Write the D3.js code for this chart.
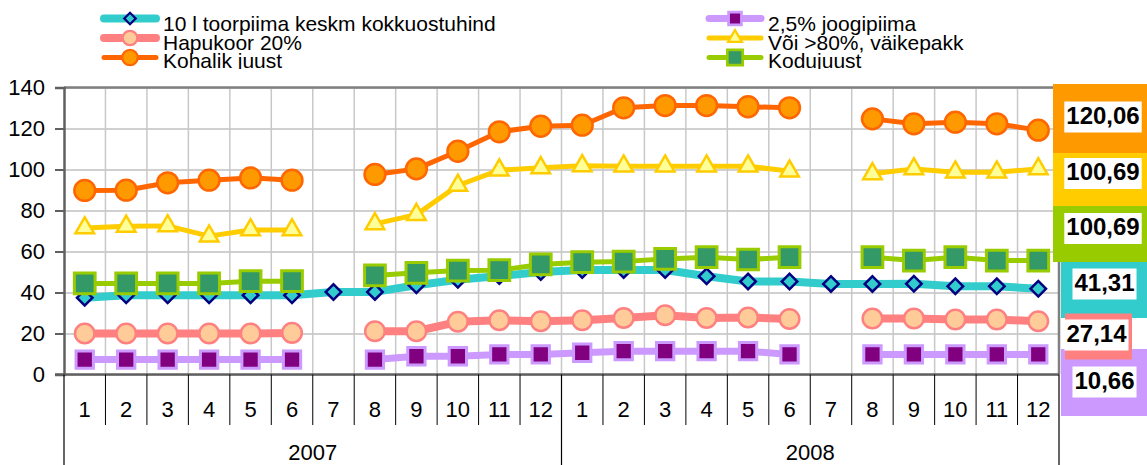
<!DOCTYPE html>
<html>
<head>
<meta charset="utf-8">
<script src="https://cdn.jsdelivr.net/npm/d3@7"></script>
<style>
  body { margin: 0; background: #fff; }
  svg { display: block; font-family: "Liberation Sans", Arial, sans-serif; }
</style>
</head>
<body>
<svg id="chart" width="1147" height="465"></svg>
<script>
// ---- data ----
var months = ["1","2","3","4","5","6","7","8","9","10","11","12",
              "1","2","3","4","5","6","7","8","9","10","11","12"];
var years = ["2007", "2008"];
var yTicks = [0, 20, 40, 60, 80, 100, 120, 140];

var toorpiima = [37.4, 38.7, 38.7, 38.7, 38.7, 38.7, 40.2, 40.3, 43.5, 46.2, 48, 50,
                 51, 51, 51, 47.9, 45.4, 45.4, 44.2, 44.2, 44.3, 43, 43, 41.8];
var joogipiima = [7.3, 7.3, 7.3, 7.3, 7.3, 7.3, null, 7.3, 8.9, 8.9, 9.8, 9.8,
                  10.6, 11.4, 11.4, 11.4, 11.4, 9.8, null, 9.8, 9.8, 9.8, 9.8, 9.8];
var hapukoor = [20, 20, 20, 20, 20, 20.3, null, 21.1, 21.1, 25.7, 26.5, 26,
                26.5, 27.6, 28.9, 27.6, 27.8, 27.1, null, 27.3, 27.3, 26.8, 26.8, 26];
var voi = [71.5, 72.3, 72.5, 67.5, 70.5, 70.5, null, 73.5, 78, 92.2, 99.7, 100.8,
           101.8, 101.6, 101.6, 101.6, 101.6, 99.2, null, 97.9, 100.3, 98.7, 98.7, 100.3];
var kohalik = [89.8, 89.9, 93.5, 94.8, 95.9, 94.8, null, 97.6, 100.3, 108.9, 118.4, 121.1,
               121.6, 130.1, 131.2, 131.2, 130.6, 130.1, null, 124.7, 122.3, 123.1, 122.3, 119.2];
var kodujuust = [44.4, 44.4, 44.4, 44.4, 45.5, 45.5, null, 48.3, 49.6, 50.7, 50.9, 53.7,
                 54.8, 55.1, 56.4, 57.2, 56.1, 57.2, null, 57.2, 55.6, 57.2, 55.6, 55.6];

var seriesNames = ["10 l toorpiima keskm kokkuostuhind", "2,5% joogipiima", "Hapukoor 20%",
                   "Või >80%, väikepakk", "Kohalik juust", "Kodujuust"];
var lastLabels = ["41,31", "10,66", "27,14", "100,69", "120,06", "100,69"];

// ---- styles per series ----
var styles = [
  {values: toorpiima,  line: "#33CCCC", box: "#33CCCC", lw: 8, sym: "diamond", size: 120, fill: "#33CCCC", stroke: "#000080", sw: 2.5},
  {values: joogipiima, line: "#CC99FF", box: "#CC99FF", lw: 7, sym: d3.symbolSquare, size: 300, fill: "#800080", stroke: "#CC99FF", sw: 3},
  {values: hapukoor,   line: "#FF8080", box: "#FF8080", lw: 8, sym: d3.symbolCircle, size: 300, fill: "#FFCC99", stroke: "#FF8080", sw: 2.5},
  {values: voi,        line: "#FFCC00", box: "#FFCC00", lw: 5, sym: d3.symbolTriangle, size: 150, fill: "#FFFF99", stroke: "#FFCC00", sw: 2.5},
  {values: kohalik,    line: "#FF6600", box: "#FF9900", lw: 5, sym: d3.symbolCircle, size: 340, fill: "#FF9900", stroke: "#FF6600", sw: 2.5},
  {values: kodujuust,  line: "#99CC00", box: "#99CC00", lw: 5, sym: d3.symbolSquare, size: 430, fill: "#339966", stroke: "#99CC00", sw: 3}
];

var svg = d3.select("#chart");
var plotLeft = 64, plotRight = 1059, plotTop = 87.5, plotBottom = 374.5;

var x = d3.scaleBand().domain(d3.range(months.length)).range([plotLeft, plotRight]);
var y = d3.scaleLinear().domain([0, 140]).range([plotBottom, plotTop]);
var cx = function(i) { return x(i) + x.bandwidth() / 2; };

function symPath(s, scale) {
  var sz = s.size * (scale || 1);
  if (s.sym === "diamond") return d3.symbol(d3.symbolSquare, sz)();
  return d3.symbol(s.sym, sz)();
}

// gridlines
svg.append("g")
  .attr("transform", "translate(" + plotLeft + ",0)")
  .call(d3.axisLeft(y).tickValues(yTicks).tickSize(-(plotRight - plotLeft)).tickFormat(""))
  .call(function(g) {
    g.select(".domain").remove();
    g.selectAll("line").attr("stroke", "#C0C0C0").attr("stroke-width", 1.5);
  });
svg.append("g").selectAll("line")
  .data(d3.range(1, months.length))
  .join("line")
  .attr("x1", function(i) { return x(i); }).attr("x2", function(i) { return x(i); })
  .attr("y1", plotTop).attr("y2", plotBottom)
  .attr("stroke", "#C8C8C8").attr("stroke-width", 1.5);

// frame
svg.append("path")
  .attr("d", "M" + plotLeft + "," + plotTop + "H" + plotRight + "V" + plotBottom)
  .attr("fill", "none").attr("stroke", "#808080").attr("stroke-width", 2.5);

// y axis
svg.append("g")
  .attr("transform", "translate(" + plotLeft + ",0)")
  .call(d3.axisLeft(y).tickValues(yTicks).tickSize(9).tickPadding(10))
  .call(function(g) {
    g.select(".domain").attr("stroke", "#606060").attr("stroke-width", 2.5);
    g.selectAll("line").attr("stroke", "#606060").attr("stroke-width", 2);
    g.selectAll("text").attr("font-size", 22).attr("fill", "#000")
      .attr("font-family", "Liberation Sans, Arial, sans-serif");
  });

// x axis line
svg.append("line")
  .attr("x1", plotLeft - 9).attr("x2", plotRight).attr("y1", plotBottom).attr("y2", plotBottom)
  .attr("stroke", "#606060").attr("stroke-width", 2.5);

// month ticks and labels
var xa = svg.append("g");
xa.selectAll("line.m")
  .data(d3.range(0, months.length + 1).filter(function(i) { return i % 12 !== 0; }))
  .join("line").attr("class", "m")
  .attr("x1", function(i) { return x(i); }).attr("x2", function(i) { return x(i); })
  .attr("y1", plotBottom).attr("y2", 425)
  .attr("stroke", "#000").attr("stroke-width", 1);
xa.selectAll("line.yr")
  .data([0, 12, 24])
  .join("line").attr("class", "yr")
  .attr("x1", function(i) { return i < 24 ? x(i) : plotRight; })
  .attr("x2", function(i) { return i < 24 ? x(i) : plotRight; })
  .attr("y1", plotBottom).attr("y2", 465)
  .attr("stroke", "#000").attr("stroke-width", 1.2);
xa.selectAll("text.m")
  .data(months)
  .join("text").attr("class", "m")
  .attr("x", function(d, i) { return cx(i); })
  .attr("y", 417)
  .attr("text-anchor", "middle").attr("font-size", 22)
  .text(function(d) { return d; });
xa.selectAll("text.yr")
  .data(years)
  .join("text").attr("class", "yr")
  .attr("x", function(d, i) { return (x(i * 12) + (i === 1 ? plotRight : x(12))) / 2; })
  .attr("y", 460)
  .attr("text-anchor", "middle").attr("font-size", 22)
  .text(function(d) { return d; });

// series
var line = d3.line()
  .defined(function(d) { return d != null; })
  .x(function(d, i) { return cx(i); })
  .y(function(d) { return y(d); });

styles.forEach(function(s) {
  var g = svg.append("g");
  g.append("path")
    .attr("d", line(s.values))
    .attr("fill", "none").attr("stroke", s.line).attr("stroke-width", s.lw)
    .attr("stroke-linejoin", "round");
  g.selectAll("path.mk")
    .data(s.values.map(function(v, i) { return {v: v, i: i}; }).filter(function(d) { return d.v != null; }))
    .join("path").attr("class", "mk")
    .attr("d", symPath(s))
    .attr("transform", function(d) {
      return "translate(" + cx(d.i) + "," + y(d.v) + ")" + (s.sym === "diamond" ? " rotate(45)" : "");
    })
    .attr("fill", s.fill).attr("stroke", s.stroke).attr("stroke-width", s.sw);
});

// legend
var legendPos = [
  {lx: 100, row: 0}, {lx: 705, row: 0},
  {lx: 100, row: 1}, {lx: 705, row: 1},
  {lx: 100, row: 2}, {lx: 705, row: 2}
];
var rowY = [18.5, 38, 57.5];
var baseY = [30.5, 49.5, 68];
svg.append("clipPath").attr("id", "legclip")
  .append("rect").attr("x", 0).attr("y", 0).attr("width", 1147).attr("height", 69);
var leg = svg.append("g").attr("clip-path", "url(#legclip)");
styles.forEach(function(s, k) {
  var p = legendPos[k];
  var ly = rowY[p.row];
  leg.append("line")
    .attr("x1", p.lx + 4).attr("x2", p.lx + 56).attr("y1", ly).attr("y2", ly)
    .attr("stroke", s.line).attr("stroke-width", s.lw).attr("stroke-linecap", "round");
  leg.append("path")
    .attr("d", symPath(s, 0.55))
    .attr("transform", "translate(" + (p.lx + 30) + "," + ly + ")" + (s.sym === "diamond" ? " rotate(45)" : ""))
    .attr("fill", s.fill).attr("stroke", s.stroke).attr("stroke-width", s.sw * 0.9);
  leg.append("text")
    .attr("x", p.lx + 63).attr("y", baseY[p.row])
    .attr("font-size", 21)
    .text(seriesNames[k]);
});

// value boxes at the right
var boxLayout = [
  {x: 1061, y: 262, w: 86, h: 56, tx: 1104.5, ty: 290.5},   // toorpiima
  {x: 1061, y: 349, w: 86, h: 67, tx: 1104.5, ty: 388.5},   // joogipiima
  {x: 1065, y: 313.5, w: 67, h: 46, tx: 1096.5, ty: 341.5}, // hapukoor
  {x: 1053, y: 153, w: 94, h: 53, tx: 1103, ty: 180},       // voi
  {x: 1053, y: 84, w: 94, h: 69, tx: 1103, ty: 123.5},      // kohalik
  {x: 1053, y: 206, w: 94, h: 56, tx: 1103, ty: 235}        // kodujuust
];
var drawOrder = [4, 3, 5, 0, 1, 2];
drawOrder.forEach(function(k) {
  var b = boxLayout[k];
  var g = svg.append("g");
  g.append("rect")
    .attr("x", b.x).attr("y", b.y).attr("width", b.w).attr("height", b.h)
    .attr("fill", styles[k].box);
  var wr = g.append("rect").attr("fill", "#fff");
  var t = g.append("text")
    .attr("x", b.tx).attr("y", b.ty)
    .attr("text-anchor", "middle").attr("font-size", 24).attr("font-weight", "bold")
    .text(lastLabels[k]);
  var len = t.node().getComputedTextLength();
  wr.attr("x", b.tx - len / 2 - 2).attr("y", b.ty - 22)
    .attr("width", len + 4).attr("height", 31);
});
</script>
</body>
</html>
